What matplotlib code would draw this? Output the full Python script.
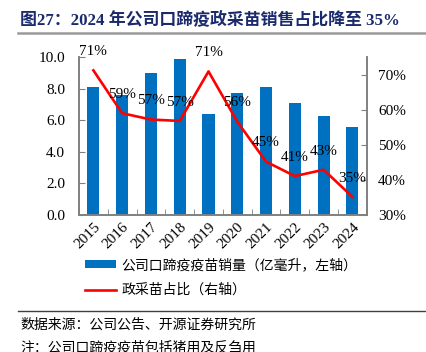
import matplotlib
matplotlib.use("Agg")
import matplotlib.pyplot as plt
from matplotlib.lines import Line2D
from matplotlib.patches import Patch

years = ["2015", "2016", "2017", "2018", "2019", "2020", "2021", "2022", "2023", "2024"]
volume = [8.1, 7.6, 9.0, 9.85, 6.4, 7.7, 8.1, 7.1, 6.3, 5.6]
share = [71.2, 59.0, 57.2, 56.8, 70.9, 56.6, 45.2, 41.1, 42.9, 35.2]
share_labels = ["71%", "59%", "57%", "57%", "71%", "56%", "45%", "41%", "43%", "35%"]

title = "图27：2024 年公司口蹄疫政采苗销售占比降至 35%"
legend_bar = "公司口蹄疫疫苗销量（亿毫升，左轴）"
legend_line = "政采苗占比（右轴）"
source = "数据来源：公司公告、开源证券研究所"
note = "注：公司口蹄疫疫苗包括猪用及反刍用"

serif = ["Liberation Serif", "Noto Sans CJK SC"]
cjk = ["Noto Sans CJK SC", "DejaVu Sans"]

BLUE = "#0070C0"
RED = "#FF0000"
GRAY = "#808080"

fig = plt.figure(figsize=(4.27, 3.52), dpi=100)
ax = fig.add_axes([0.185, 0.389, 0.674, 0.449])
ax2 = ax.twinx()

x = list(range(len(years)))
ax.bar(x, volume, width=0.42, color=BLUE, zorder=2)
ax.set_xlim(-0.5, len(years) - 0.5)
ax.set_ylim(0, 10)
ax.set_yticks([0, 2, 4, 6, 8, 10])
ax.set_yticklabels([f"{v:.1f}" for v in [0, 2, 4, 6, 8, 10]], family=serif, fontsize=11)

ax.set_xticks(x)
ax.set_xticklabels(years, family=serif, fontsize=11, rotation=45, ha="right", va="top",
                   rotation_mode="anchor")
ax.set_xticks([i + 0.5 for i in range(-1, len(years))], minor=True)
ax.tick_params(axis="x", which="major", length=0, pad=4)
ax.tick_params(axis="x", which="minor", direction="in", length=4, color=GRAY)
ax.tick_params(axis="y", direction="in", length=4, color=GRAY, pad=10)

ax2.plot(x, share, color=RED, linewidth=1.9, zorder=3)
ax2.set_ylim(30, 75)
ax2.set_yticks([30, 40, 50, 60, 70])
ax2.set_yticklabels([f"{v}%" for v in [30, 40, 50, 60, 70]], family=serif, fontsize=11)
ax2.tick_params(axis="y", direction="in", length=4, color=GRAY, pad=8)
for xi, yi, lab in zip(x, share, share_labels):
    ax2.annotate(lab, (xi, yi), xytext=(0, 13.5), textcoords="offset points",
                 ha="center", va="center", family=serif, fontsize=11, zorder=4)

for a in (ax, ax2):
    a.spines["top"].set_visible(False)
    for s in ("left", "right", "bottom"):
        a.spines[s].set_color(GRAY)
        a.spines[s].set_linewidth(1.2)

handles = [Patch(facecolor=BLUE, edgecolor="none"), Line2D([], [], color=RED, linewidth=1.9)]
leg = fig.legend(handles, [legend_bar, legend_line], loc="upper left",
                 bbox_to_anchor=(0.2, 0.267), frameon=False,
                 prop={"family": cjk, "size": 10}, handlelength=2.2, handleheight=0.5,
                 handletextpad=0.4, labelspacing=0.8, borderaxespad=0, borderpad=0)

fig.text(0.047, 0.943, title, family=serif, fontsize=12.2, fontweight="bold",
         color="#1A2A6C", ha="left", va="center")
fig.add_artist(Line2D([0.042, 1.0], [0.906, 0.906], color="#9A9A9A", linewidth=1.8))
fig.add_artist(Line2D([0.042, 1.0], [0.117, 0.117], color="#404040", linewidth=1.0))
fig.text(0.047, 0.077, source, family=cjk, fontsize=10, ha="left", va="center")
fig.text(0.047, 0.014, note, family=cjk, fontsize=10, ha="left", va="center")

fig.savefig("out.png", dpi=100)
